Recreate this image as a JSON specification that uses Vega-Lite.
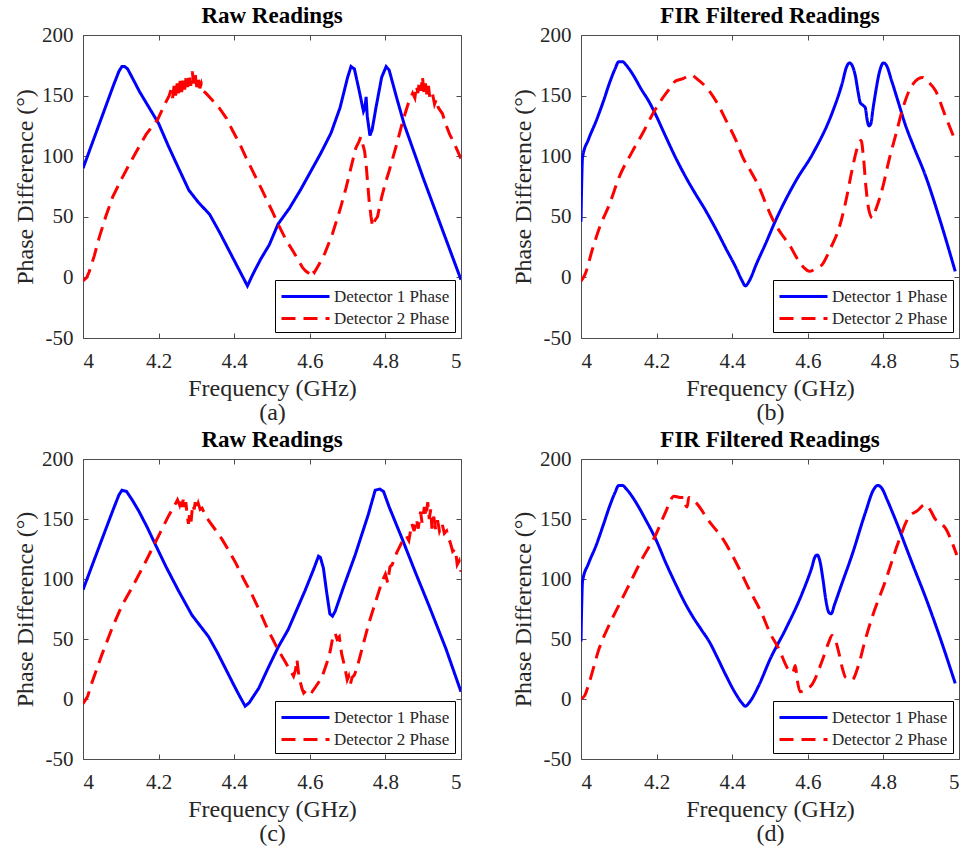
{
  "$schema": "https://vega.github.io/schema/vega-lite/v6.json",
  "background": "white",
  "padding": {"left": 13, "top": 4, "right": 0, "bottom": 0},
  "config": {
    "font": "Liberation Serif",
    "style": {
      "guide-label": {"font": "Liberation Serif", "fontSize": 21, "fill": "#262626"},
      "guide-title": {"font": "Liberation Serif", "fontSize": 24, "fontWeight": 400, "fill": "#262626"},
      "group-title": {"font": "Liberation Serif", "fontSize": 23, "fontWeight": "bold", "fill": "#000000"}
    },
    "view": {"stroke": "#4d4d4d", "strokeWidth": 1},
    "axis": {
      "grid": false, "domain": false, "tickSize": -5, "tickColor": "#4d4d4d", "tickWidth": 1,
      "minExtent": 0, "maxExtent": 200,
      "labelFont": "Liberation Serif", "labelFontSize": 21, "labelColor": "#262626", "labelPadding": 15,
      "titleFont": "Liberation Serif", "titleFontSize": 24, "titleFontWeight": 400, "titleColor": "#262626", "titlePadding": 4
    },
    "axisX": {"labelPadding": 17, "titlePadding": 5},
    "title": {"font": "Liberation Serif", "fontSize": 23, "fontWeight": "bold", "color": "#000000", "offset": -4},
    "legend": {
      "orient": "bottom-right", "offset": 6, "title": null, "strokeColor": "#000000", "fillColor": "#ffffff",
      "padding": 5, "labelFont": "Liberation Serif", "labelFontSize": 17, "labelColor": "#262626",
      "symbolType": "M-2.4,0H2.4", "symbolSize": 400, "symbolStrokeWidth": 3, "symbolOffset": 14,
      "rowPadding": 2, "labelOffset": 17
    }
  },
  "datasets": {
    "rawA": [
      {"f":4.00,"p":90,"s":"Detector 1 Phase"},{"f":4.02,"p":107,"s":"Detector 1 Phase"},{"f":4.04,"p":124,"s":"Detector 1 Phase"},{"f":4.06,"p":141,"s":"Detector 1 Phase"},{"f":4.08,"p":158,"s":"Detector 1 Phase"},{"f":4.095,"p":170,"s":"Detector 1 Phase"},{"f":4.103,"p":174,"s":"Detector 1 Phase"},{"f":4.11,"p":174,"s":"Detector 1 Phase"},{"f":4.118,"p":172,"s":"Detector 1 Phase"},{"f":4.13,"p":165,"s":"Detector 1 Phase"},{"f":4.15,"p":153,"s":"Detector 1 Phase"},{"f":4.175,"p":140,"s":"Detector 1 Phase"},{"f":4.20,"p":127,"s":"Detector 1 Phase"},{"f":4.225,"p":109,"s":"Detector 1 Phase"},{"f":4.25,"p":92,"s":"Detector 1 Phase"},{"f":4.28,"p":72,"s":"Detector 1 Phase"},{"f":4.305,"p":62,"s":"Detector 1 Phase"},{"f":4.335,"p":52,"s":"Detector 1 Phase"},{"f":4.36,"p":38,"s":"Detector 1 Phase"},{"f":4.38,"p":26,"s":"Detector 1 Phase"},{"f":4.40,"p":14,"s":"Detector 1 Phase"},{"f":4.42,"p":2,"s":"Detector 1 Phase"},{"f":4.435,"p":-7,"s":"Detector 1 Phase"},{"f":4.45,"p":3,"s":"Detector 1 Phase"},{"f":4.47,"p":15,"s":"Detector 1 Phase"},{"f":4.493,"p":27,"s":"Detector 1 Phase"},{"f":4.516,"p":44,"s":"Detector 1 Phase"},{"f":4.546,"p":57,"s":"Detector 1 Phase"},{"f":4.575,"p":72,"s":"Detector 1 Phase"},{"f":4.607,"p":90,"s":"Detector 1 Phase"},{"f":4.63,"p":103,"s":"Detector 1 Phase"},{"f":4.656,"p":119,"s":"Detector 1 Phase"},{"f":4.68,"p":140,"s":"Detector 1 Phase"},{"f":4.70,"p":165,"s":"Detector 1 Phase"},{"f":4.709,"p":174,"s":"Detector 1 Phase"},{"f":4.718,"p":172,"s":"Detector 1 Phase"},{"f":4.73,"p":155,"s":"Detector 1 Phase"},{"f":4.742,"p":137,"s":"Detector 1 Phase"},{"f":4.746,"p":140,"s":"Detector 1 Phase"},{"f":4.749,"p":149,"s":"Detector 1 Phase"},{"f":4.752,"p":133,"s":"Detector 1 Phase"},{"f":4.759,"p":117,"s":"Detector 1 Phase"},{"f":4.765,"p":122,"s":"Detector 1 Phase"},{"f":4.775,"p":140,"s":"Detector 1 Phase"},{"f":4.79,"p":165,"s":"Detector 1 Phase"},{"f":4.802,"p":174,"s":"Detector 1 Phase"},{"f":4.81,"p":171,"s":"Detector 1 Phase"},{"f":4.83,"p":148,"s":"Detector 1 Phase"},{"f":4.85,"p":126,"s":"Detector 1 Phase"},{"f":4.90,"p":82,"s":"Detector 1 Phase"},{"f":4.95,"p":40,"s":"Detector 1 Phase"},{"f":5.00,"p":-2,"s":"Detector 1 Phase"},
      {"f":4.00,"p":-3,"s":"Detector 2 Phase"},{"f":4.01,"p":0,"s":"Detector 2 Phase"},{"f":4.017,"p":5,"s":"Detector 2 Phase"},{"f":4.03,"p":18,"s":"Detector 2 Phase"},{"f":4.043,"p":33,"s":"Detector 2 Phase"},{"f":4.06,"p":50,"s":"Detector 2 Phase"},{"f":4.078,"p":66,"s":"Detector 2 Phase"},{"f":4.10,"p":80,"s":"Detector 2 Phase"},{"f":4.122,"p":93,"s":"Detector 2 Phase"},{"f":4.145,"p":106,"s":"Detector 2 Phase"},{"f":4.167,"p":118,"s":"Detector 2 Phase"},{"f":4.197,"p":130,"s":"Detector 2 Phase"},{"f":4.215,"p":142,"s":"Detector 2 Phase"},{"f":4.228,"p":150,"s":"Detector 2 Phase"},{"f":4.233,"p":155,"s":"Detector 2 Phase"},{"f":4.237,"p":148,"s":"Detector 2 Phase"},{"f":4.241,"p":158,"s":"Detector 2 Phase"},{"f":4.245,"p":150,"s":"Detector 2 Phase"},{"f":4.249,"p":160,"s":"Detector 2 Phase"},{"f":4.253,"p":152,"s":"Detector 2 Phase"},{"f":4.257,"p":162,"s":"Detector 2 Phase"},{"f":4.261,"p":153,"s":"Detector 2 Phase"},{"f":4.265,"p":163,"s":"Detector 2 Phase"},{"f":4.269,"p":155,"s":"Detector 2 Phase"},{"f":4.273,"p":166,"s":"Detector 2 Phase"},{"f":4.277,"p":157,"s":"Detector 2 Phase"},{"f":4.281,"p":168,"s":"Detector 2 Phase"},{"f":4.285,"p":158,"s":"Detector 2 Phase"},{"f":4.289,"p":170,"s":"Detector 2 Phase"},{"f":4.293,"p":160,"s":"Detector 2 Phase"},{"f":4.297,"p":167,"s":"Detector 2 Phase"},{"f":4.301,"p":157,"s":"Detector 2 Phase"},{"f":4.305,"p":164,"s":"Detector 2 Phase"},{"f":4.309,"p":156,"s":"Detector 2 Phase"},{"f":4.313,"p":160,"s":"Detector 2 Phase"},{"f":4.318,"p":154,"s":"Detector 2 Phase"},{"f":4.325,"p":152,"s":"Detector 2 Phase"},{"f":4.34,"p":147,"s":"Detector 2 Phase"},{"f":4.36,"p":140,"s":"Detector 2 Phase"},{"f":4.38,"p":131,"s":"Detector 2 Phase"},{"f":4.396,"p":121,"s":"Detector 2 Phase"},{"f":4.415,"p":110,"s":"Detector 2 Phase"},{"f":4.431,"p":99,"s":"Detector 2 Phase"},{"f":4.45,"p":87,"s":"Detector 2 Phase"},{"f":4.466,"p":77,"s":"Detector 2 Phase"},{"f":4.483,"p":66,"s":"Detector 2 Phase"},{"f":4.50,"p":55,"s":"Detector 2 Phase"},{"f":4.516,"p":44,"s":"Detector 2 Phase"},{"f":4.537,"p":31,"s":"Detector 2 Phase"},{"f":4.555,"p":22,"s":"Detector 2 Phase"},{"f":4.57,"p":14,"s":"Detector 2 Phase"},{"f":4.581,"p":8,"s":"Detector 2 Phase"},{"f":4.59,"p":5,"s":"Detector 2 Phase"},{"f":4.599,"p":3,"s":"Detector 2 Phase"},{"f":4.605,"p":7,"s":"Detector 2 Phase"},{"f":4.612,"p":4,"s":"Detector 2 Phase"},{"f":4.625,"p":11,"s":"Detector 2 Phase"},{"f":4.64,"p":20,"s":"Detector 2 Phase"},{"f":4.66,"p":36,"s":"Detector 2 Phase"},{"f":4.68,"p":56,"s":"Detector 2 Phase"},{"f":4.696,"p":74,"s":"Detector 2 Phase"},{"f":4.71,"p":92,"s":"Detector 2 Phase"},{"f":4.722,"p":107,"s":"Detector 2 Phase"},{"f":4.73,"p":112,"s":"Detector 2 Phase"},{"f":4.735,"p":116,"s":"Detector 2 Phase"},{"f":4.74,"p":110,"s":"Detector 2 Phase"},{"f":4.745,"p":104,"s":"Detector 2 Phase"},{"f":4.749,"p":93,"s":"Detector 2 Phase"},{"f":4.753,"p":78,"s":"Detector 2 Phase"},{"f":4.757,"p":63,"s":"Detector 2 Phase"},{"f":4.762,"p":50,"s":"Detector 2 Phase"},{"f":4.766,"p":42,"s":"Detector 2 Phase"},{"f":4.772,"p":47,"s":"Detector 2 Phase"},{"f":4.779,"p":50,"s":"Detector 2 Phase"},{"f":4.79,"p":66,"s":"Detector 2 Phase"},{"f":4.80,"p":78,"s":"Detector 2 Phase"},{"f":4.81,"p":88,"s":"Detector 2 Phase"},{"f":4.83,"p":110,"s":"Detector 2 Phase"},{"f":4.846,"p":129,"s":"Detector 2 Phase"},{"f":4.86,"p":143,"s":"Detector 2 Phase"},{"f":4.872,"p":152,"s":"Detector 2 Phase"},{"f":4.878,"p":148,"s":"Detector 2 Phase"},{"f":4.882,"p":158,"s":"Detector 2 Phase"},{"f":4.886,"p":152,"s":"Detector 2 Phase"},{"f":4.89,"p":162,"s":"Detector 2 Phase"},{"f":4.894,"p":154,"s":"Detector 2 Phase"},{"f":4.898,"p":166,"s":"Detector 2 Phase"},{"f":4.902,"p":152,"s":"Detector 2 Phase"},{"f":4.906,"p":160,"s":"Detector 2 Phase"},{"f":4.91,"p":150,"s":"Detector 2 Phase"},{"f":4.914,"p":158,"s":"Detector 2 Phase"},{"f":4.918,"p":147,"s":"Detector 2 Phase"},{"f":4.925,"p":151,"s":"Detector 2 Phase"},{"f":4.93,"p":143,"s":"Detector 2 Phase"},{"f":4.935,"p":147,"s":"Detector 2 Phase"},{"f":4.94,"p":140,"s":"Detector 2 Phase"},{"f":4.951,"p":135,"s":"Detector 2 Phase"},{"f":4.96,"p":126,"s":"Detector 2 Phase"},{"f":4.97,"p":118,"s":"Detector 2 Phase"},{"f":4.98,"p":112,"s":"Detector 2 Phase"},{"f":4.99,"p":105,"s":"Detector 2 Phase"},{"f":5.00,"p":98,"s":"Detector 2 Phase"}
    ],
    "firA": [
      {"f":4.00,"p":46,"s":"Detector 1 Phase"},{"f":4.002,"p":80,"s":"Detector 1 Phase"},{"f":4.004,"p":99,"s":"Detector 1 Phase"},{"f":4.02,"p":114,"s":"Detector 1 Phase"},{"f":4.04,"p":129,"s":"Detector 1 Phase"},{"f":4.06,"p":146,"s":"Detector 1 Phase"},{"f":4.075,"p":160,"s":"Detector 1 Phase"},{"f":4.09,"p":172,"s":"Detector 1 Phase"},{"f":4.10,"p":178,"s":"Detector 1 Phase"},{"f":4.11,"p":178,"s":"Detector 1 Phase"},{"f":4.12,"p":175,"s":"Detector 1 Phase"},{"f":4.136,"p":168,"s":"Detector 1 Phase"},{"f":4.16,"p":155,"s":"Detector 1 Phase"},{"f":4.18,"p":145,"s":"Detector 1 Phase"},{"f":4.198,"p":134,"s":"Detector 1 Phase"},{"f":4.22,"p":119,"s":"Detector 1 Phase"},{"f":4.25,"p":99,"s":"Detector 1 Phase"},{"f":4.275,"p":84,"s":"Detector 1 Phase"},{"f":4.295,"p":73,"s":"Detector 1 Phase"},{"f":4.33,"p":55,"s":"Detector 1 Phase"},{"f":4.36,"p":38,"s":"Detector 1 Phase"},{"f":4.383,"p":24,"s":"Detector 1 Phase"},{"f":4.41,"p":8,"s":"Detector 1 Phase"},{"f":4.425,"p":-2,"s":"Detector 1 Phase"},{"f":4.435,"p":-7,"s":"Detector 1 Phase"},{"f":4.445,"p":-3,"s":"Detector 1 Phase"},{"f":4.464,"p":11,"s":"Detector 1 Phase"},{"f":4.49,"p":29,"s":"Detector 1 Phase"},{"f":4.512,"p":45,"s":"Detector 1 Phase"},{"f":4.569,"p":80,"s":"Detector 1 Phase"},{"f":4.613,"p":102,"s":"Detector 1 Phase"},{"f":4.666,"p":137,"s":"Detector 1 Phase"},{"f":4.69,"p":159,"s":"Detector 1 Phase"},{"f":4.703,"p":174,"s":"Detector 1 Phase"},{"f":4.71,"p":177,"s":"Detector 1 Phase"},{"f":4.717,"p":175,"s":"Detector 1 Phase"},{"f":4.726,"p":166,"s":"Detector 1 Phase"},{"f":4.733,"p":153,"s":"Detector 1 Phase"},{"f":4.739,"p":144,"s":"Detector 1 Phase"},{"f":4.746,"p":142,"s":"Detector 1 Phase"},{"f":4.752,"p":140,"s":"Detector 1 Phase"},{"f":4.757,"p":130,"s":"Detector 1 Phase"},{"f":4.762,"p":125,"s":"Detector 1 Phase"},{"f":4.767,"p":127,"s":"Detector 1 Phase"},{"f":4.772,"p":138,"s":"Detector 1 Phase"},{"f":4.778,"p":150,"s":"Detector 1 Phase"},{"f":4.79,"p":170,"s":"Detector 1 Phase"},{"f":4.80,"p":177,"s":"Detector 1 Phase"},{"f":4.808,"p":175,"s":"Detector 1 Phase"},{"f":4.822,"p":162,"s":"Detector 1 Phase"},{"f":4.84,"p":144,"s":"Detector 1 Phase"},{"f":4.858,"p":126,"s":"Detector 1 Phase"},{"f":4.88,"p":108,"s":"Detector 1 Phase"},{"f":4.91,"p":85,"s":"Detector 1 Phase"},{"f":4.95,"p":47,"s":"Detector 1 Phase"},{"f":4.99,"p":5,"s":"Detector 1 Phase"},
      {"f":4.00,"p":-3,"s":"Detector 2 Phase"},{"f":4.01,"p":2,"s":"Detector 2 Phase"},{"f":4.031,"p":24,"s":"Detector 2 Phase"},{"f":4.05,"p":42,"s":"Detector 2 Phase"},{"f":4.075,"p":60,"s":"Detector 2 Phase"},{"f":4.10,"p":82,"s":"Detector 2 Phase"},{"f":4.136,"p":104,"s":"Detector 2 Phase"},{"f":4.165,"p":120,"s":"Detector 2 Phase"},{"f":4.19,"p":135,"s":"Detector 2 Phase"},{"f":4.216,"p":148,"s":"Detector 2 Phase"},{"f":4.24,"p":158,"s":"Detector 2 Phase"},{"f":4.25,"p":162,"s":"Detector 2 Phase"},{"f":4.27,"p":164,"s":"Detector 2 Phase"},{"f":4.29,"p":167,"s":"Detector 2 Phase"},{"f":4.31,"p":163,"s":"Detector 2 Phase"},{"f":4.339,"p":154,"s":"Detector 2 Phase"},{"f":4.36,"p":144,"s":"Detector 2 Phase"},{"f":4.383,"p":130,"s":"Detector 2 Phase"},{"f":4.41,"p":113,"s":"Detector 2 Phase"},{"f":4.428,"p":99,"s":"Detector 2 Phase"},{"f":4.45,"p":87,"s":"Detector 2 Phase"},{"f":4.472,"p":74,"s":"Detector 2 Phase"},{"f":4.49,"p":60,"s":"Detector 2 Phase"},{"f":4.512,"p":45,"s":"Detector 2 Phase"},{"f":4.53,"p":36,"s":"Detector 2 Phase"},{"f":4.551,"p":27,"s":"Detector 2 Phase"},{"f":4.575,"p":14,"s":"Detector 2 Phase"},{"f":4.59,"p":8,"s":"Detector 2 Phase"},{"f":4.604,"p":5,"s":"Detector 2 Phase"},{"f":4.62,"p":7,"s":"Detector 2 Phase"},{"f":4.639,"p":11,"s":"Detector 2 Phase"},{"f":4.66,"p":24,"s":"Detector 2 Phase"},{"f":4.683,"p":41,"s":"Detector 2 Phase"},{"f":4.70,"p":62,"s":"Detector 2 Phase"},{"f":4.718,"p":90,"s":"Detector 2 Phase"},{"f":4.73,"p":106,"s":"Detector 2 Phase"},{"f":4.741,"p":113,"s":"Detector 2 Phase"},{"f":4.747,"p":100,"s":"Detector 2 Phase"},{"f":4.754,"p":74,"s":"Detector 2 Phase"},{"f":4.762,"p":55,"s":"Detector 2 Phase"},{"f":4.771,"p":49,"s":"Detector 2 Phase"},{"f":4.78,"p":56,"s":"Detector 2 Phase"},{"f":4.798,"p":74,"s":"Detector 2 Phase"},{"f":4.815,"p":97,"s":"Detector 2 Phase"},{"f":4.833,"p":118,"s":"Detector 2 Phase"},{"f":4.85,"p":138,"s":"Detector 2 Phase"},{"f":4.868,"p":154,"s":"Detector 2 Phase"},{"f":4.885,"p":162,"s":"Detector 2 Phase"},{"f":4.903,"p":165,"s":"Detector 2 Phase"},{"f":4.92,"p":161,"s":"Detector 2 Phase"},{"f":4.938,"p":154,"s":"Detector 2 Phase"},{"f":4.963,"p":134,"s":"Detector 2 Phase"},{"f":4.991,"p":112,"s":"Detector 2 Phase"}
    ],
    "rawB": [
      {"f":4.00,"p":91,"s":"Detector 1 Phase"},{"f":4.05,"p":133,"s":"Detector 1 Phase"},{"f":4.08,"p":158,"s":"Detector 1 Phase"},{"f":4.095,"p":170,"s":"Detector 1 Phase"},{"f":4.103,"p":174,"s":"Detector 1 Phase"},{"f":4.115,"p":173,"s":"Detector 1 Phase"},{"f":4.13,"p":166,"s":"Detector 1 Phase"},{"f":4.147,"p":157,"s":"Detector 1 Phase"},{"f":4.17,"p":143,"s":"Detector 1 Phase"},{"f":4.191,"p":129,"s":"Detector 1 Phase"},{"f":4.22,"p":110,"s":"Detector 1 Phase"},{"f":4.253,"p":90,"s":"Detector 1 Phase"},{"f":4.288,"p":70,"s":"Detector 1 Phase"},{"f":4.31,"p":61,"s":"Detector 1 Phase"},{"f":4.332,"p":52,"s":"Detector 1 Phase"},{"f":4.355,"p":39,"s":"Detector 1 Phase"},{"f":4.376,"p":26,"s":"Detector 1 Phase"},{"f":4.40,"p":11,"s":"Detector 1 Phase"},{"f":4.415,"p":2,"s":"Detector 1 Phase"},{"f":4.429,"p":-6,"s":"Detector 1 Phase"},{"f":4.44,"p":-3,"s":"Detector 1 Phase"},{"f":4.465,"p":9,"s":"Detector 1 Phase"},{"f":4.49,"p":26,"s":"Detector 1 Phase"},{"f":4.516,"p":43,"s":"Detector 1 Phase"},{"f":4.543,"p":58,"s":"Detector 1 Phase"},{"f":4.587,"p":90,"s":"Detector 1 Phase"},{"f":4.61,"p":108,"s":"Detector 1 Phase"},{"f":4.623,"p":119,"s":"Detector 1 Phase"},{"f":4.628,"p":118,"s":"Detector 1 Phase"},{"f":4.636,"p":109,"s":"Detector 1 Phase"},{"f":4.645,"p":88,"s":"Detector 1 Phase"},{"f":4.653,"p":71,"s":"Detector 1 Phase"},{"f":4.66,"p":69,"s":"Detector 1 Phase"},{"f":4.667,"p":73,"s":"Detector 1 Phase"},{"f":4.69,"p":94,"s":"Detector 1 Phase"},{"f":4.72,"p":120,"s":"Detector 1 Phase"},{"f":4.755,"p":154,"s":"Detector 1 Phase"},{"f":4.773,"p":174,"s":"Detector 1 Phase"},{"f":4.785,"p":175,"s":"Detector 1 Phase"},{"f":4.795,"p":173,"s":"Detector 1 Phase"},{"f":4.81,"p":160,"s":"Detector 1 Phase"},{"f":4.845,"p":133,"s":"Detector 1 Phase"},{"f":4.88,"p":105,"s":"Detector 1 Phase"},{"f":4.915,"p":78,"s":"Detector 1 Phase"},{"f":4.96,"p":42,"s":"Detector 1 Phase"},{"f":5.00,"p":6,"s":"Detector 1 Phase"},
      {"f":4.00,"p":-4,"s":"Detector 2 Phase"},{"f":4.012,"p":2,"s":"Detector 2 Phase"},{"f":4.024,"p":14,"s":"Detector 2 Phase"},{"f":4.05,"p":37,"s":"Detector 2 Phase"},{"f":4.077,"p":59,"s":"Detector 2 Phase"},{"f":4.103,"p":78,"s":"Detector 2 Phase"},{"f":4.13,"p":93,"s":"Detector 2 Phase"},{"f":4.165,"p":114,"s":"Detector 2 Phase"},{"f":4.20,"p":136,"s":"Detector 2 Phase"},{"f":4.227,"p":153,"s":"Detector 2 Phase"},{"f":4.24,"p":160,"s":"Detector 2 Phase"},{"f":4.25,"p":166,"s":"Detector 2 Phase"},{"f":4.255,"p":162,"s":"Detector 2 Phase"},{"f":4.258,"p":168,"s":"Detector 2 Phase"},{"f":4.262,"p":160,"s":"Detector 2 Phase"},{"f":4.265,"p":166,"s":"Detector 2 Phase"},{"f":4.269,"p":159,"s":"Detector 2 Phase"},{"f":4.272,"p":164,"s":"Detector 2 Phase"},{"f":4.276,"p":152,"s":"Detector 2 Phase"},{"f":4.279,"p":146,"s":"Detector 2 Phase"},{"f":4.282,"p":155,"s":"Detector 2 Phase"},{"f":4.286,"p":148,"s":"Detector 2 Phase"},{"f":4.29,"p":162,"s":"Detector 2 Phase"},{"f":4.294,"p":158,"s":"Detector 2 Phase"},{"f":4.297,"p":164,"s":"Detector 2 Phase"},{"f":4.301,"p":158,"s":"Detector 2 Phase"},{"f":4.305,"p":163,"s":"Detector 2 Phase"},{"f":4.31,"p":158,"s":"Detector 2 Phase"},{"f":4.315,"p":159,"s":"Detector 2 Phase"},{"f":4.325,"p":152,"s":"Detector 2 Phase"},{"f":4.341,"p":145,"s":"Detector 2 Phase"},{"f":4.355,"p":139,"s":"Detector 2 Phase"},{"f":4.368,"p":133,"s":"Detector 2 Phase"},{"f":4.385,"p":124,"s":"Detector 2 Phase"},{"f":4.403,"p":114,"s":"Detector 2 Phase"},{"f":4.425,"p":100,"s":"Detector 2 Phase"},{"f":4.447,"p":87,"s":"Detector 2 Phase"},{"f":4.465,"p":75,"s":"Detector 2 Phase"},{"f":4.483,"p":62,"s":"Detector 2 Phase"},{"f":4.50,"p":51,"s":"Detector 2 Phase"},{"f":4.518,"p":40,"s":"Detector 2 Phase"},{"f":4.535,"p":31,"s":"Detector 2 Phase"},{"f":4.544,"p":26,"s":"Detector 2 Phase"},{"f":4.55,"p":23,"s":"Detector 2 Phase"},{"f":4.557,"p":19,"s":"Detector 2 Phase"},{"f":4.562,"p":24,"s":"Detector 2 Phase"},{"f":4.566,"p":33,"s":"Detector 2 Phase"},{"f":4.57,"p":22,"s":"Detector 2 Phase"},{"f":4.575,"p":14,"s":"Detector 2 Phase"},{"f":4.58,"p":8,"s":"Detector 2 Phase"},{"f":4.584,"p":5,"s":"Detector 2 Phase"},{"f":4.59,"p":7,"s":"Detector 2 Phase"},{"f":4.595,"p":5,"s":"Detector 2 Phase"},{"f":4.60,"p":7,"s":"Detector 2 Phase"},{"f":4.606,"p":6,"s":"Detector 2 Phase"},{"f":4.615,"p":10,"s":"Detector 2 Phase"},{"f":4.632,"p":18,"s":"Detector 2 Phase"},{"f":4.645,"p":30,"s":"Detector 2 Phase"},{"f":4.654,"p":40,"s":"Detector 2 Phase"},{"f":4.66,"p":50,"s":"Detector 2 Phase"},{"f":4.667,"p":55,"s":"Detector 2 Phase"},{"f":4.672,"p":50,"s":"Detector 2 Phase"},{"f":4.678,"p":52,"s":"Detector 2 Phase"},{"f":4.684,"p":38,"s":"Detector 2 Phase"},{"f":4.69,"p":30,"s":"Detector 2 Phase"},{"f":4.694,"p":24,"s":"Detector 2 Phase"},{"f":4.699,"p":16,"s":"Detector 2 Phase"},{"f":4.703,"p":19,"s":"Detector 2 Phase"},{"f":4.707,"p":12,"s":"Detector 2 Phase"},{"f":4.712,"p":18,"s":"Detector 2 Phase"},{"f":4.718,"p":20,"s":"Detector 2 Phase"},{"f":4.725,"p":26,"s":"Detector 2 Phase"},{"f":4.74,"p":44,"s":"Detector 2 Phase"},{"f":4.756,"p":63,"s":"Detector 2 Phase"},{"f":4.775,"p":82,"s":"Detector 2 Phase"},{"f":4.791,"p":98,"s":"Detector 2 Phase"},{"f":4.80,"p":104,"s":"Detector 2 Phase"},{"f":4.806,"p":97,"s":"Detector 2 Phase"},{"f":4.812,"p":110,"s":"Detector 2 Phase"},{"f":4.818,"p":112,"s":"Detector 2 Phase"},{"f":4.83,"p":122,"s":"Detector 2 Phase"},{"f":4.844,"p":131,"s":"Detector 2 Phase"},{"f":4.855,"p":136,"s":"Detector 2 Phase"},{"f":4.862,"p":132,"s":"Detector 2 Phase"},{"f":4.87,"p":146,"s":"Detector 2 Phase"},{"f":4.876,"p":140,"s":"Detector 2 Phase"},{"f":4.882,"p":150,"s":"Detector 2 Phase"},{"f":4.887,"p":142,"s":"Detector 2 Phase"},{"f":4.893,"p":156,"s":"Detector 2 Phase"},{"f":4.897,"p":147,"s":"Detector 2 Phase"},{"f":4.903,"p":160,"s":"Detector 2 Phase"},{"f":4.908,"p":152,"s":"Detector 2 Phase"},{"f":4.912,"p":164,"s":"Detector 2 Phase"},{"f":4.916,"p":150,"s":"Detector 2 Phase"},{"f":4.92,"p":158,"s":"Detector 2 Phase"},{"f":4.923,"p":142,"s":"Detector 2 Phase"},{"f":4.928,"p":152,"s":"Detector 2 Phase"},{"f":4.933,"p":141,"s":"Detector 2 Phase"},{"f":4.938,"p":149,"s":"Detector 2 Phase"},{"f":4.943,"p":140,"s":"Detector 2 Phase"},{"f":4.95,"p":146,"s":"Detector 2 Phase"},{"f":4.956,"p":138,"s":"Detector 2 Phase"},{"f":4.962,"p":140,"s":"Detector 2 Phase"},{"f":4.967,"p":134,"s":"Detector 2 Phase"},{"f":4.972,"p":130,"s":"Detector 2 Phase"},{"f":4.978,"p":123,"s":"Detector 2 Phase"},{"f":4.985,"p":125,"s":"Detector 2 Phase"},{"f":4.99,"p":112,"s":"Detector 2 Phase"},{"f":4.995,"p":115,"s":"Detector 2 Phase"},{"f":5.00,"p":106,"s":"Detector 2 Phase"}
    ],
    "firB": [
      {"f":4.00,"p":48,"s":"Detector 1 Phase"},{"f":4.002,"p":80,"s":"Detector 1 Phase"},{"f":4.004,"p":98,"s":"Detector 1 Phase"},{"f":4.02,"p":113,"s":"Detector 1 Phase"},{"f":4.04,"p":128,"s":"Detector 1 Phase"},{"f":4.06,"p":146,"s":"Detector 1 Phase"},{"f":4.075,"p":160,"s":"Detector 1 Phase"},{"f":4.09,"p":172,"s":"Detector 1 Phase"},{"f":4.10,"p":178,"s":"Detector 1 Phase"},{"f":4.11,"p":178,"s":"Detector 1 Phase"},{"f":4.12,"p":175,"s":"Detector 1 Phase"},{"f":4.145,"p":164,"s":"Detector 1 Phase"},{"f":4.17,"p":150,"s":"Detector 1 Phase"},{"f":4.198,"p":133,"s":"Detector 1 Phase"},{"f":4.225,"p":113,"s":"Detector 1 Phase"},{"f":4.25,"p":96,"s":"Detector 1 Phase"},{"f":4.275,"p":80,"s":"Detector 1 Phase"},{"f":4.295,"p":69,"s":"Detector 1 Phase"},{"f":4.32,"p":57,"s":"Detector 1 Phase"},{"f":4.339,"p":48,"s":"Detector 1 Phase"},{"f":4.36,"p":35,"s":"Detector 1 Phase"},{"f":4.383,"p":20,"s":"Detector 1 Phase"},{"f":4.41,"p":4,"s":"Detector 1 Phase"},{"f":4.425,"p":-3,"s":"Detector 1 Phase"},{"f":4.435,"p":-6,"s":"Detector 1 Phase"},{"f":4.445,"p":-3,"s":"Detector 1 Phase"},{"f":4.47,"p":11,"s":"Detector 1 Phase"},{"f":4.50,"p":33,"s":"Detector 1 Phase"},{"f":4.541,"p":58,"s":"Detector 1 Phase"},{"f":4.585,"p":88,"s":"Detector 1 Phase"},{"f":4.61,"p":109,"s":"Detector 1 Phase"},{"f":4.62,"p":119,"s":"Detector 1 Phase"},{"f":4.625,"p":120,"s":"Detector 1 Phase"},{"f":4.632,"p":115,"s":"Detector 1 Phase"},{"f":4.64,"p":100,"s":"Detector 1 Phase"},{"f":4.648,"p":82,"s":"Detector 1 Phase"},{"f":4.656,"p":72,"s":"Detector 1 Phase"},{"f":4.662,"p":71,"s":"Detector 1 Phase"},{"f":4.67,"p":78,"s":"Detector 1 Phase"},{"f":4.69,"p":96,"s":"Detector 1 Phase"},{"f":4.717,"p":120,"s":"Detector 1 Phase"},{"f":4.752,"p":155,"s":"Detector 1 Phase"},{"f":4.775,"p":175,"s":"Detector 1 Phase"},{"f":4.785,"p":178,"s":"Detector 1 Phase"},{"f":4.795,"p":176,"s":"Detector 1 Phase"},{"f":4.81,"p":166,"s":"Detector 1 Phase"},{"f":4.822,"p":157,"s":"Detector 1 Phase"},{"f":4.84,"p":143,"s":"Detector 1 Phase"},{"f":4.858,"p":128,"s":"Detector 1 Phase"},{"f":4.88,"p":110,"s":"Detector 1 Phase"},{"f":4.91,"p":86,"s":"Detector 1 Phase"},{"f":4.95,"p":51,"s":"Detector 1 Phase"},{"f":4.99,"p":13,"s":"Detector 1 Phase"},
      {"f":4.00,"p":0,"s":"Detector 2 Phase"},{"f":4.01,"p":3,"s":"Detector 2 Phase"},{"f":4.022,"p":14,"s":"Detector 2 Phase"},{"f":4.048,"p":42,"s":"Detector 2 Phase"},{"f":4.075,"p":62,"s":"Detector 2 Phase"},{"f":4.10,"p":78,"s":"Detector 2 Phase"},{"f":4.127,"p":95,"s":"Detector 2 Phase"},{"f":4.162,"p":117,"s":"Detector 2 Phase"},{"f":4.198,"p":137,"s":"Detector 2 Phase"},{"f":4.224,"p":156,"s":"Detector 2 Phase"},{"f":4.246,"p":169,"s":"Detector 2 Phase"},{"f":4.262,"p":168,"s":"Detector 2 Phase"},{"f":4.272,"p":168,"s":"Detector 2 Phase"},{"f":4.276,"p":162,"s":"Detector 2 Phase"},{"f":4.281,"p":160,"s":"Detector 2 Phase"},{"f":4.285,"p":168,"s":"Detector 2 Phase"},{"f":4.303,"p":164,"s":"Detector 2 Phase"},{"f":4.339,"p":148,"s":"Detector 2 Phase"},{"f":4.374,"p":134,"s":"Detector 2 Phase"},{"f":4.418,"p":109,"s":"Detector 2 Phase"},{"f":4.444,"p":92,"s":"Detector 2 Phase"},{"f":4.48,"p":70,"s":"Detector 2 Phase"},{"f":4.50,"p":55,"s":"Detector 2 Phase"},{"f":4.523,"p":42,"s":"Detector 2 Phase"},{"f":4.55,"p":24,"s":"Detector 2 Phase"},{"f":4.56,"p":22,"s":"Detector 2 Phase"},{"f":4.567,"p":28,"s":"Detector 2 Phase"},{"f":4.572,"p":16,"s":"Detector 2 Phase"},{"f":4.58,"p":6,"s":"Detector 2 Phase"},{"f":4.595,"p":8,"s":"Detector 2 Phase"},{"f":4.611,"p":12,"s":"Detector 2 Phase"},{"f":4.637,"p":31,"s":"Detector 2 Phase"},{"f":4.655,"p":47,"s":"Detector 2 Phase"},{"f":4.664,"p":53,"s":"Detector 2 Phase"},{"f":4.672,"p":50,"s":"Detector 2 Phase"},{"f":4.681,"p":40,"s":"Detector 2 Phase"},{"f":4.692,"p":25,"s":"Detector 2 Phase"},{"f":4.70,"p":18,"s":"Detector 2 Phase"},{"f":4.717,"p":16,"s":"Detector 2 Phase"},{"f":4.734,"p":28,"s":"Detector 2 Phase"},{"f":4.75,"p":47,"s":"Detector 2 Phase"},{"f":4.77,"p":68,"s":"Detector 2 Phase"},{"f":4.805,"p":98,"s":"Detector 2 Phase"},{"f":4.84,"p":131,"s":"Detector 2 Phase"},{"f":4.866,"p":151,"s":"Detector 2 Phase"},{"f":4.89,"p":157,"s":"Detector 2 Phase"},{"f":4.91,"p":162,"s":"Detector 2 Phase"},{"f":4.925,"p":157,"s":"Detector 2 Phase"},{"f":4.937,"p":150,"s":"Detector 2 Phase"},{"f":4.947,"p":148,"s":"Detector 2 Phase"},{"f":4.954,"p":146,"s":"Detector 2 Phase"},{"f":4.965,"p":142,"s":"Detector 2 Phase"},{"f":4.981,"p":131,"s":"Detector 2 Phase"},{"f":4.994,"p":120,"s":"Detector 2 Phase"}
    ]
  },
  "columns": 2,
  "spacing": {"row": 3, "column": 46},
  "resolve": {
    "scale": {"color": "independent", "strokeDash": "independent"},
    "legend": {"color": "independent", "strokeDash": "independent"}
  },
  "concat": [
    {
      "title": "Raw Readings", "width": 378, "height": 303, "data": {"name": "rawA"},
      "layer": [
        {
          "mark": {"type": "line", "strokeWidth": 3, "clip": true},
          "encoding": {
            "x": {"field": "f", "type": "quantitative", "scale": {"domain": [4, 5], "nice": false, "zero": false}, "axis": {"values": [4, 4.2, 4.4, 4.6, 4.8, 5], "format": "~g", "title": ["Frequency (GHz)", "(a)"], "titleLineHeight": 24}},
            "y": {"field": "p", "type": "quantitative", "scale": {"domain": [-50, 200], "nice": false, "zero": false}, "axis": {"values": [-50, 0, 50, 100, 150, 200], "labelExpr": "'' + datum.value", "title": "Phase Difference (°)"}},
            "color": {"field": "s", "type": "nominal", "scale": {"domain": ["Detector 1 Phase", "Detector 2 Phase"], "range": ["#0000ff", "#ff0000"]}},
            "strokeDash": {"field": "s", "type": "nominal", "scale": {"domain": ["Detector 1 Phase", "Detector 2 Phase"], "range": [[1, 0], [14, 8]]}}
          }
        },
        {
          "mark": {"type": "point", "opacity": 0},
          "encoding": {
            "x": {"field": "f", "type": "quantitative", "scale": {"domain": [4, 5], "nice": false, "zero": false}, "axis": {"orient": "top", "values": [4, 4.2, 4.4, 4.6, 4.8, 5], "labels": false, "title": null, "minExtent": 0, "maxExtent": 0}},
            "y": {"field": "p", "type": "quantitative", "scale": {"domain": [-50, 200], "nice": false, "zero": false}, "axis": {"orient": "right", "values": [-50, 0, 50, 100, 150, 200], "labels": false, "title": null, "minExtent": 0, "maxExtent": 0}}
          }
        }
      ],
      "resolve": {"axis": {"x": "independent", "y": "independent"}}
    },
    {
      "title": "FIR Filtered Readings", "width": 378, "height": 303, "data": {"name": "firA"},
      "layer": [
        {
          "mark": {"type": "line", "strokeWidth": 3, "clip": true, "interpolate": "monotone"},
          "encoding": {
            "x": {"field": "f", "type": "quantitative", "scale": {"domain": [4, 5], "nice": false, "zero": false}, "axis": {"values": [4, 4.2, 4.4, 4.6, 4.8, 5], "format": "~g", "title": ["Frequency (GHz)", "(b)"], "titleLineHeight": 24}},
            "y": {"field": "p", "type": "quantitative", "scale": {"domain": [-50, 200], "nice": false, "zero": false}, "axis": {"values": [-50, 0, 50, 100, 150, 200], "labelExpr": "'' + datum.value", "title": "Phase Difference (°)"}},
            "color": {"field": "s", "type": "nominal", "scale": {"domain": ["Detector 1 Phase", "Detector 2 Phase"], "range": ["#0000ff", "#ff0000"]}},
            "strokeDash": {"field": "s", "type": "nominal", "scale": {"domain": ["Detector 1 Phase", "Detector 2 Phase"], "range": [[1, 0], [14, 8]]}}
          }
        },
        {
          "mark": {"type": "point", "opacity": 0},
          "encoding": {
            "x": {"field": "f", "type": "quantitative", "scale": {"domain": [4, 5], "nice": false, "zero": false}, "axis": {"orient": "top", "values": [4, 4.2, 4.4, 4.6, 4.8, 5], "labels": false, "title": null, "minExtent": 0, "maxExtent": 0}},
            "y": {"field": "p", "type": "quantitative", "scale": {"domain": [-50, 200], "nice": false, "zero": false}, "axis": {"orient": "right", "values": [-50, 0, 50, 100, 150, 200], "labels": false, "title": null, "minExtent": 0, "maxExtent": 0}}
          }
        }
      ],
      "resolve": {"axis": {"x": "independent", "y": "independent"}}
    },
    {
      "title": "Raw Readings", "width": 378, "height": 300, "data": {"name": "rawB"},
      "layer": [
        {
          "mark": {"type": "line", "strokeWidth": 3, "clip": true},
          "encoding": {
            "x": {"field": "f", "type": "quantitative", "scale": {"domain": [4, 5], "nice": false, "zero": false}, "axis": {"values": [4, 4.2, 4.4, 4.6, 4.8, 5], "format": "~g", "title": ["Frequency (GHz)", "(c)"], "titleLineHeight": 24}},
            "y": {"field": "p", "type": "quantitative", "scale": {"domain": [-50, 200], "nice": false, "zero": false}, "axis": {"values": [-50, 0, 50, 100, 150, 200], "labelExpr": "'' + datum.value", "title": "Phase Difference (°)"}},
            "color": {"field": "s", "type": "nominal", "scale": {"domain": ["Detector 1 Phase", "Detector 2 Phase"], "range": ["#0000ff", "#ff0000"]}},
            "strokeDash": {"field": "s", "type": "nominal", "scale": {"domain": ["Detector 1 Phase", "Detector 2 Phase"], "range": [[1, 0], [14, 8]]}}
          }
        },
        {
          "mark": {"type": "point", "opacity": 0},
          "encoding": {
            "x": {"field": "f", "type": "quantitative", "scale": {"domain": [4, 5], "nice": false, "zero": false}, "axis": {"orient": "top", "values": [4, 4.2, 4.4, 4.6, 4.8, 5], "labels": false, "title": null, "minExtent": 0, "maxExtent": 0}},
            "y": {"field": "p", "type": "quantitative", "scale": {"domain": [-50, 200], "nice": false, "zero": false}, "axis": {"orient": "right", "values": [-50, 0, 50, 100, 150, 200], "labels": false, "title": null, "minExtent": 0, "maxExtent": 0}}
          }
        }
      ],
      "resolve": {"axis": {"x": "independent", "y": "independent"}}
    },
    {
      "title": "FIR Filtered Readings", "width": 378, "height": 300, "data": {"name": "firB"},
      "layer": [
        {
          "mark": {"type": "line", "strokeWidth": 3, "clip": true, "interpolate": "monotone"},
          "encoding": {
            "x": {"field": "f", "type": "quantitative", "scale": {"domain": [4, 5], "nice": false, "zero": false}, "axis": {"values": [4, 4.2, 4.4, 4.6, 4.8, 5], "format": "~g", "title": ["Frequency (GHz)", "(d)"], "titleLineHeight": 24}},
            "y": {"field": "p", "type": "quantitative", "scale": {"domain": [-50, 200], "nice": false, "zero": false}, "axis": {"values": [-50, 0, 50, 100, 150, 200], "labelExpr": "'' + datum.value", "title": "Phase Difference (°)"}},
            "color": {"field": "s", "type": "nominal", "scale": {"domain": ["Detector 1 Phase", "Detector 2 Phase"], "range": ["#0000ff", "#ff0000"]}},
            "strokeDash": {"field": "s", "type": "nominal", "scale": {"domain": ["Detector 1 Phase", "Detector 2 Phase"], "range": [[1, 0], [14, 8]]}}
          }
        },
        {
          "mark": {"type": "point", "opacity": 0},
          "encoding": {
            "x": {"field": "f", "type": "quantitative", "scale": {"domain": [4, 5], "nice": false, "zero": false}, "axis": {"orient": "top", "values": [4, 4.2, 4.4, 4.6, 4.8, 5], "labels": false, "title": null, "minExtent": 0, "maxExtent": 0}},
            "y": {"field": "p", "type": "quantitative", "scale": {"domain": [-50, 200], "nice": false, "zero": false}, "axis": {"orient": "right", "values": [-50, 0, 50, 100, 150, 200], "labels": false, "title": null, "minExtent": 0, "maxExtent": 0}}
          }
        }
      ],
      "resolve": {"axis": {"x": "independent", "y": "independent"}}
    }
  ]
}
